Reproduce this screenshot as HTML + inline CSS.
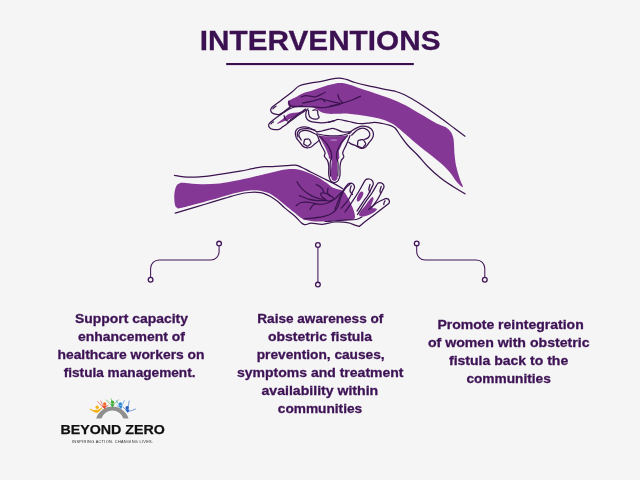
<!DOCTYPE html>
<html lang="en">
<head>
<meta charset="utf-8">
<title>Interventions</title>
<style>
html,body{margin:0;padding:0;background:#f5f5f5;}
body{width:640px;height:480px;overflow:hidden;position:relative;font-family:"Liberation Sans",sans-serif;}
svg{will-change:transform;position:absolute;left:0;top:0;display:block;}
text{font-family:"Liberation Sans",sans-serif;font-weight:bold;}
.t{font-size:13px;fill:#3e1356;stroke:#3e1356;stroke-width:0.3px;}
</style>
</head>
<body>
<svg width="640" height="480" viewBox="0 0 640 480">
<rect width="640" height="480" fill="#f5f5f5"/>
<!-- title -->
<text x="199.8" y="49.9" font-size="28.5" fill="#3c1152" stroke="#3c1152" stroke-width="0.3" textLength="240.7" lengthAdjust="spacingAndGlyphs">INTERVENTIONS</text>
<rect x="226.2" y="63" width="187.6" height="2.1" fill="#3a0f50"/>

<!-- ILLUS-START -->
<path d="M288.2 101.6C288.7 100.8 289.3 100.6 291.0 99.6C292.7 98.6 295.2 97.4 297.5 96.2C299.8 95.1 301.1 94.1 303.8 93.1C306.4 92.1 309.1 91.7 312.5 90.6C315.9 89.5 319.1 88.0 322.5 86.9C325.9 85.8 328.1 85.1 331.2 84.4C334.4 83.7 336.9 83.0 340.0 83.0C343.1 83.0 344.9 83.4 348.8 84.4C352.6 85.4 355.6 86.8 361.2 88.8C366.9 90.7 374.4 93.1 380.0 95.0C385.6 96.9 388.0 97.6 392.5 99.4C397.0 101.2 400.1 102.4 405.0 105.0C409.9 107.6 414.6 110.6 420.0 113.8C425.4 116.9 431.2 120.4 435.0 122.5C438.8 124.6 438.9 124.2 441.0 125.2C443.1 126.2 445.1 126.6 446.9 127.9C448.7 129.2 449.8 130.4 451.0 132.2C452.2 134.0 452.7 135.5 453.3 138.0C453.9 140.5 453.9 142.9 454.1 146.0C454.3 149.1 454.2 151.4 454.6 155.0C455.0 158.6 455.2 161.9 456.2 166.2C457.2 170.6 458.8 175.8 460.0 179.4C461.2 183.0 462.5 184.7 462.8 186.0C463.1 187.3 462.8 187.5 461.6 186.6C460.4 185.7 458.3 183.8 456.2 181.2C454.2 178.7 452.9 175.9 450.0 172.5C447.1 169.1 444.1 166.1 440.0 162.5C435.9 158.9 432.0 156.1 427.5 152.5C423.0 148.9 419.1 145.9 415.0 142.5C410.9 139.1 408.1 136.4 405.0 133.8C401.9 131.1 399.8 129.3 397.5 127.5C395.2 125.7 395.2 125.2 392.5 123.8C389.8 122.3 387.0 120.8 382.5 119.4C378.0 118.1 373.6 117.3 367.5 116.2C361.4 115.2 353.7 114.2 348.8 113.8C343.8 113.3 342.3 113.8 340.0 113.8C337.7 113.8 338.1 113.8 336.0 113.8C333.9 113.8 331.0 114.0 328.5 113.8C326.0 113.5 324.5 113.4 322.2 112.5C320.0 111.6 318.0 109.9 316.0 108.9C314.0 107.9 313.4 107.3 311.0 106.8C308.6 106.3 305.9 106.4 302.5 106.3C299.1 106.2 294.4 106.5 292.0 106.4C289.6 106.3 289.7 106.4 289.0 106.0C288.3 105.6 288.1 104.8 288.0 104.0C287.9 103.2 287.7 102.4 288.2 101.6Z" fill="#843795"/>
<path d="M277.1 123.5C277.5 122.8 281.1 120.4 283.0 118.8C284.9 117.1 286.0 115.7 287.7 114.6C289.4 113.5 290.5 113.3 292.3 112.9C294.1 112.5 296.3 112.6 297.8 112.4C299.3 112.2 300.6 111.5 300.9 111.7C301.2 111.9 300.5 112.9 299.4 113.7C298.3 114.5 296.4 115.4 294.7 116.4C293.0 117.4 291.7 118.3 290.0 119.1C288.3 119.9 287.0 120.2 285.3 120.8C283.6 121.4 282.1 122.2 280.6 122.7C279.1 123.2 276.7 124.2 277.1 123.5Z" fill="#843795"/>
<path d="M179.8 183.3C181.4 182.7 181.5 182.8 185.3 183.0C189.1 183.2 194.8 184.1 201.0 184.2C207.2 184.3 213.5 184.0 219.7 183.4C225.9 182.8 229.7 181.9 235.3 180.8C240.9 179.7 246.6 178.5 251.0 177.5C255.4 176.5 256.5 176.1 260.0 175.3C263.5 174.5 266.4 173.8 270.6 172.8C274.8 171.8 278.9 170.5 283.1 169.8C287.3 169.1 290.1 168.7 294.0 169.0C297.9 169.3 300.8 170.0 305.0 171.4C309.2 172.8 313.6 174.8 317.5 176.9C321.4 179.0 324.1 181.1 326.9 183.1C329.7 185.1 330.3 186.4 333.1 187.8C335.9 189.2 339.9 189.1 342.5 190.8C345.1 192.4 345.9 194.5 347.5 197.0C349.1 199.5 350.1 202.0 351.2 204.5C352.4 207.0 353.1 208.5 353.8 210.8C354.4 213.0 355.1 215.4 355.0 217.0C354.9 218.6 354.4 218.9 353.0 219.5C351.6 220.1 349.8 219.9 347.5 220.1C345.2 220.3 343.8 220.4 340.0 220.6C336.2 220.8 331.2 221.1 326.2 221.2C321.3 221.4 316.8 221.7 312.5 221.2C308.2 220.8 305.6 220.2 302.5 218.8C299.4 217.3 298.1 215.6 295.0 213.1C291.9 210.6 288.1 207.6 285.0 205.0C281.9 202.4 280.2 200.8 277.5 198.8C274.8 196.7 272.2 195.0 270.0 193.8C267.8 192.5 267.0 192.6 265.0 192.0C263.0 191.4 261.6 190.8 258.8 190.5C255.9 190.2 252.8 190.2 249.4 190.5C246.0 190.8 243.9 191.2 240.0 192.0C236.1 192.8 232.6 193.8 227.5 195.2C222.4 196.6 217.5 198.2 211.9 199.8C206.3 201.4 201.9 202.5 196.2 204.0C190.6 205.5 184.1 207.4 180.6 208.1C177.1 208.8 178.0 208.2 177.0 207.7C176.0 207.2 175.7 207.1 175.2 205.5C174.7 203.9 174.4 201.4 174.3 199.0C174.2 196.6 174.2 194.3 174.6 192.0C175.0 189.7 175.4 187.8 176.3 186.2C177.2 184.6 178.2 183.9 179.8 183.3Z" fill="#843795"/>
<path d="M361.9 191.4C362.5 191.5 363.3 192.0 363.4 193.0C363.5 194.0 362.9 195.6 362.2 197.0C361.5 198.4 360.4 200.0 359.6 200.8C358.8 201.6 358.0 201.6 357.5 201.4C357.0 201.2 356.7 200.6 356.8 199.5C356.9 198.4 357.4 196.8 358.0 195.5C358.6 194.2 359.3 193.0 360.0 192.3C360.7 191.6 361.3 191.3 361.9 191.4Z" fill="#843795"/>
<path d="M372.5 197.0C373.3 196.7 373.5 198.1 373.5 199.0C373.5 199.9 372.9 200.7 372.5 202.0C372.1 203.3 371.2 204.9 371.2 206.0C371.2 207.1 371.8 207.6 372.5 208.0C373.2 208.4 374.2 208.0 375.0 208.2C375.8 208.5 377.3 208.6 376.9 209.5C376.4 210.4 374.9 212.0 372.5 213.2C370.1 214.5 366.1 216.0 363.8 216.4C361.4 216.8 360.1 216.5 359.4 215.8C358.7 215.0 359.0 213.8 360.0 212.0C361.0 210.2 363.4 208.1 365.0 206.0C366.6 203.9 367.6 202.1 369.0 200.5C370.4 198.9 371.7 197.3 372.5 197.0Z" fill="#843795"/>
<path d="M318.2 135.4 Q333 137.8 347.6 135.2 Q341.5 143 338.8 151 L339.4 158 L337 161.5 L337 172.5 L337.6 178.75 L335 181.2 L332 180 L330.6 175 L331.3 166 L331.8 160.6 L328.8 158 L328.7 156 Q326 147 318.2 135.4Z" fill="#843795"/>
<ellipse cx="333.8" cy="140" rx="3.8" ry="0.8" fill="#b57cc4"/>
<g fill="none" stroke="#3b1450" stroke-width="1.25" stroke-linecap="round" stroke-linejoin="round">
<path d="M290.8 106.6C290.4 106.9 289.8 107.1 288.4 108.2C287.0 109.3 284.7 111.4 283.0 112.5C281.3 113.6 280.5 114.2 279.1 114.5C277.7 114.8 276.5 114.5 275.2 114.2C273.9 113.9 272.8 113.4 272.0 112.8C271.2 112.2 271.0 111.6 270.8 110.8C270.6 110.0 270.8 109.3 271.1 108.6C271.4 107.9 270.6 108.4 272.6 106.8C274.6 105.2 278.7 102.3 282.2 99.6C285.7 96.9 288.9 94.5 292.0 92.0C295.1 89.5 296.3 87.4 299.5 85.8C302.7 84.2 305.9 83.9 310.0 83.1C314.1 82.3 318.9 81.9 322.5 81.2C326.1 80.6 327.1 80.0 330.0 79.4C332.9 78.8 335.8 78.1 338.8 78.1C341.7 78.1 343.3 78.6 346.2 79.4C349.2 80.2 351.2 81.4 355.0 82.5C358.8 83.6 362.6 84.5 367.5 85.6C372.4 86.7 377.6 87.7 382.5 88.8C387.4 89.8 390.9 90.1 395.0 91.2C399.1 92.4 400.5 92.8 405.0 95.0C409.5 97.2 413.7 99.7 420.0 103.8C426.3 107.8 433.7 113.0 440.0 117.5C446.3 122.0 450.5 125.4 455.0 128.8C459.5 132.1 463.2 134.9 465.0 136.2"/>
<path d="M289.8 106.2C291.6 106.3 295.7 106.5 300.0 106.6C304.3 106.7 309.2 106.7 313.8 106.9C318.2 107.1 320.3 108.0 325.0 107.5C329.7 107.0 337.3 105.0 340.0 104.4"/>
<path d="M302.5 105.9C301.1 106.1 297.2 106.4 294.7 107.0C292.2 107.6 290.5 108.3 288.4 109.4C286.3 110.5 285.0 111.6 283.0 112.9C281.0 114.2 279.8 115.1 277.5 116.8C275.2 118.5 272.1 120.9 270.5 122.3C268.9 123.7 268.9 123.7 268.7 124.6C268.5 125.5 268.6 126.5 269.3 127.3C270.0 128.1 271.0 128.9 272.8 129.3C274.6 129.7 277.3 129.8 279.1 129.3C280.9 128.8 281.3 127.8 283.0 126.6C284.7 125.4 286.0 124.5 288.4 122.7C290.8 120.9 293.9 118.6 296.2 116.8C298.6 115.0 299.9 114.2 301.7 112.9C303.5 111.6 305.6 110.4 306.4 109.8"/>
<path d="M287.7 122.3C288.7 121.5 290.9 119.6 293.0 118.0C295.1 116.4 297.1 114.9 299.4 113.3C301.7 111.7 304.5 109.8 305.6 109.0"/>
<path d="M272.9 108.9C273.2 108.6 273.7 107.8 274.3 107.3C274.9 106.8 275.7 106.4 276.0 106.2"/>
<path d="M271.0 123.9C271.2 123.7 271.8 123.0 272.2 122.6C272.6 122.2 273.3 122.0 273.5 121.9"/>
<path d="M284.1 115.6C284.3 116.2 284.6 118.3 285.2 119.2C285.8 120.1 286.9 120.5 287.2 120.8"/>
<path d="M307.9 108.8C307.6 109.4 306.3 111.0 306.0 112.5C305.7 114.0 305.7 115.6 306.0 116.9C306.3 118.2 306.8 119.1 307.9 120.0C309.0 120.9 309.9 121.4 312.2 121.9C314.6 122.4 318.1 122.7 321.0 122.8C323.9 122.9 326.2 122.6 328.5 122.2C330.8 121.8 333.0 121.1 334.0 120.8"/>
<path d="M308.5 110.3C308.6 111.0 308.5 113.1 308.8 114.4C309.1 115.7 309.4 116.7 310.4 117.5C311.4 118.3 312.8 118.9 314.1 119.1C315.4 119.3 316.7 119.1 317.6 118.8C318.5 118.4 319.0 118.0 319.1 117.2C319.2 116.4 318.2 115.5 317.9 114.4C317.6 113.3 317.9 112.0 317.6 111.2C317.3 110.5 316.8 110.2 316.0 110.0C315.2 109.8 313.5 110.2 312.9 110.3"/>
<path d="M328.5 122.2C329.5 121.9 332.2 121.3 334.0 120.8C335.8 120.3 335.8 119.4 338.5 119.5C341.2 119.6 345.1 120.8 348.8 121.5C352.4 122.2 355.1 123.2 358.5 123.5C361.9 123.8 364.6 123.4 367.5 123.2C370.4 123.0 371.8 122.3 374.5 122.4C377.2 122.5 379.7 123.0 382.5 123.5C385.3 124.0 387.8 124.5 390.0 125.3C392.2 126.1 393.2 126.3 395.0 128.0C396.8 129.7 397.8 131.9 400.0 135.0C402.2 138.1 404.4 141.4 407.5 145.0C410.6 148.6 413.9 151.2 417.5 155.0C421.1 158.8 423.4 162.2 427.5 166.2C431.6 170.3 435.5 173.9 440.0 177.5C444.5 181.1 448.0 183.3 452.5 186.2C457.0 189.2 462.8 192.4 465.0 193.8"/>
<path d="M301.2 96.9C302.1 96.7 303.8 95.6 306.2 95.6C308.7 95.6 312.1 97.2 315.0 96.9C317.9 96.6 320.7 94.6 322.5 93.8C324.3 92.9 324.6 92.5 325.0 92.2"/>
<path d="M288.8 101.2C288.8 101.7 288.9 102.7 289.2 103.5C289.5 104.3 290.3 105.1 290.5 105.5"/>
<path d="M302.5 103.1C304.3 102.8 309.1 102.0 312.5 101.2C315.9 100.5 319.0 98.6 321.2 98.8C323.5 98.9 324.3 101.3 325.0 101.9"/>
<path d="M321.2 98.8C322.8 99.2 326.6 100.4 330.0 101.2C333.4 102.1 338.2 102.9 340.0 103.3"/>
<path d="M330.0 106.2C332.2 105.7 338.5 104.2 342.5 103.1C346.5 102.0 348.7 101.2 352.0 100.0C355.3 98.8 359.1 96.9 360.6 96.2"/>
<path d="M338.0 94.4C338.2 95.1 338.2 97.0 339.0 98.5C339.8 100.0 341.9 102.0 342.5 102.8"/>
<path d="M174.4 175.3C176.1 175.6 179.2 176.6 183.8 176.9C188.2 177.2 192.9 177.3 199.4 176.9C205.9 176.5 212.4 175.4 219.7 174.4C227.0 173.4 234.1 172.3 240.0 171.2C245.9 170.2 248.5 169.4 252.5 168.6C256.5 167.8 258.7 167.2 262.0 166.8C265.3 166.4 266.2 166.8 270.6 166.6C275.0 166.4 281.8 165.9 286.2 165.6C290.8 165.3 292.8 164.9 295.6 165.2C298.4 165.5 299.1 166.2 301.9 167.5C304.7 168.8 307.6 170.4 311.2 172.2C314.9 174.0 318.3 175.7 322.2 177.7C326.1 179.7 329.4 181.1 333.1 183.1C336.8 185.1 340.8 187.6 342.5 188.6"/>
<path d="M175.2 213.1C179.0 212.0 189.6 208.9 196.2 206.9C202.9 204.9 206.3 203.9 211.9 202.2C217.5 200.5 222.4 199.0 227.5 197.5C232.6 196.0 236.1 194.9 240.0 194.0C243.9 193.1 246.3 192.8 249.4 192.5C252.5 192.2 254.7 192.2 257.2 192.3C259.7 192.4 261.2 192.6 263.5 193.3C265.8 194.0 267.5 194.8 270.0 196.2C272.5 197.7 274.8 199.1 277.5 201.2C280.2 203.4 281.9 205.4 285.0 208.1C288.1 210.8 291.6 213.3 295.0 216.2C298.4 219.2 300.8 223.2 303.8 224.4C306.7 225.6 307.9 223.1 311.2 223.1C314.6 223.1 318.2 224.6 322.5 224.4C326.8 224.2 330.5 222.3 335.0 222.0C339.5 221.7 343.9 222.0 347.5 222.6C351.1 223.2 352.9 224.4 355.0 225.1C357.1 225.8 358.6 226.2 359.4 226.4"/>
<path d="M303.8 218.8C305.3 218.6 308.7 218.5 312.5 218.1C316.3 217.7 321.4 217.2 325.0 216.2C328.6 215.3 330.2 214.7 332.5 213.1C334.8 211.5 335.9 210.5 337.5 207.5C339.1 204.5 339.9 199.6 341.2 196.2C342.6 192.9 343.4 191.0 345.0 188.8C346.6 186.5 349.1 184.9 350.0 184.0"/>
<path d="M325.0 221.5C326.8 221.4 331.4 221.0 335.0 220.8C338.6 220.5 341.2 220.3 345.0 220.1C348.8 219.9 353.2 220.1 356.2 219.5C359.3 218.9 360.9 217.4 361.9 217.0"/>
<path d="M335.0 209.5C335.7 207.7 337.4 202.7 338.8 199.5C340.1 196.3 341.0 194.1 342.5 191.5C344.0 188.9 346.0 186.3 347.2 184.9C348.3 183.5 348.1 183.9 348.7 183.5C349.4 183.2 350.0 183.1 350.7 183.1C351.5 183.2 352.1 183.4 352.7 183.8C353.3 184.2 353.7 184.7 354.1 185.4C354.4 186.0 354.5 186.7 354.5 187.4C354.4 188.1 354.6 187.6 353.8 189.3C353.0 191.1 351.1 194.9 350.0 197.0C348.9 199.1 349.1 198.7 347.5 200.8C345.9 202.8 342.4 206.9 341.2 208.2"/>
<path d="M345.0 212.0C346.1 210.4 348.8 206.9 351.2 203.2C353.7 199.6 356.3 195.6 358.8 191.5C361.2 187.4 363.5 182.8 365.0 180.6C366.5 178.4 366.2 179.5 367.0 179.2C367.8 178.9 368.6 178.8 369.4 179.0C370.2 179.1 370.9 179.5 371.6 180.0C372.3 180.5 372.7 181.2 373.0 182.0C373.3 182.8 373.4 183.6 373.2 184.4C373.1 185.2 373.2 184.6 372.2 186.6C371.2 188.7 369.0 193.2 367.5 195.8C366.0 198.3 365.6 198.0 363.8 200.8C361.9 203.5 358.2 209.2 357.0 211.0"/>
<path d="M357.5 214.5C359.1 212.0 363.6 204.6 366.2 200.8C368.9 196.9 370.0 196.0 372.0 193.0C374.0 190.0 376.1 185.8 377.3 184.0C378.6 182.2 378.3 183.2 379.0 182.9C379.6 182.7 380.3 182.7 380.9 182.8C381.6 183.0 382.2 183.2 382.7 183.7C383.2 184.2 383.6 184.7 383.8 185.3C384.0 186.0 384.0 186.6 383.9 187.3C383.8 188.0 384.2 186.9 383.0 189.1C381.9 191.3 379.5 196.3 377.5 199.5C375.5 202.7 373.0 205.7 372.0 207.0"/>
<path d="M368.8 209.5C370.1 208.4 373.4 205.2 376.2 203.2C379.1 201.3 383.0 199.7 384.8 198.9C386.6 198.0 385.8 198.5 386.4 198.5C386.9 198.5 387.4 198.6 387.9 198.9C388.4 199.2 388.7 199.6 389.0 200.1C389.3 200.6 389.4 201.1 389.4 201.7C389.4 202.2 389.2 202.7 388.9 203.2C388.6 203.7 390.0 202.5 387.8 204.3C385.5 206.1 380.1 210.3 376.2 213.2C372.4 216.2 369.3 218.4 366.2 220.8C363.2 223.1 360.6 225.4 359.4 226.4"/>
<path d="M351.2 185.8C351.0 186.7 349.8 189.2 350.0 190.8C350.2 192.3 352.1 193.8 352.5 194.5"/>
<path d="M370.0 184.5C369.8 185.4 368.8 188.2 368.8 189.5C368.8 190.8 369.8 191.6 370.0 192.0"/>
<path d="M381.2 186.4C381.0 187.2 380.1 189.6 380.0 190.8C379.9 191.9 380.4 192.6 380.5 193.0"/>
<path d="M385.0 200.8C384.8 201.1 384.2 202.1 384.0 202.8C383.8 203.5 383.8 204.2 383.8 204.5"/>
<path d="M296.9 181.9C297.9 183.2 299.9 186.9 302.5 189.4C305.1 191.9 308.1 193.9 311.2 195.6C314.4 197.3 317.5 198.2 320.0 198.8C322.5 199.3 324.1 198.8 325.0 198.8"/>
<path d="M299.4 195.6C300.9 196.2 304.2 197.8 307.5 198.8C310.8 199.7 314.1 200.3 317.5 200.6C320.9 200.9 324.7 200.6 326.2 200.6"/>
<path d="M296.2 205.6C297.1 205.0 298.8 203.1 301.2 202.5C303.7 201.9 306.6 202.2 310.0 202.5C313.4 202.8 316.6 204.4 320.0 204.4C323.4 204.4 326.1 203.5 328.8 202.5C331.4 201.5 332.5 200.8 335.0 198.8C337.5 196.7 341.1 192.6 342.5 191.2"/>
<path d="M310.0 209.4C310.4 208.7 311.5 206.6 312.5 205.6C313.5 204.6 315.0 204.1 315.6 203.8"/>
<path d="M316.2 184.4C317.1 185.0 319.9 186.2 321.2 187.5C322.6 188.8 323.3 191.1 323.8 191.9"/>
<path d="M328.1 188.1C328.0 188.9 327.2 191.0 327.5 192.5C327.8 194.0 329.6 195.6 330.0 196.2"/>
<path d="M320.6 193.8C320.8 192.8 323.1 192.7 325.0 193.1C326.9 193.5 329.7 195.2 331.2 196.2C332.8 197.3 334.2 197.8 333.8 198.8C333.3 199.7 330.6 201.4 328.8 201.2C326.9 201.1 325.2 199.4 323.8 198.1C322.3 196.8 320.4 194.7 320.6 193.8Z"/>
<path d="M318.8 140.6C318.1 141.2 316.6 142.5 315.0 143.8C313.4 145.0 312.0 146.9 310.0 147.5C308.0 148.1 305.6 147.8 303.8 146.9C301.9 146.0 301.4 144.2 300.0 142.5C298.6 140.8 297.0 139.5 296.2 137.5C295.5 135.5 294.9 133.1 295.6 131.2C296.3 129.4 297.6 128.2 300.0 127.5C302.4 126.8 305.7 126.7 308.8 127.5C311.8 128.3 315.4 131.1 316.9 131.9"/>
<path d="M317.5 135.5C317.1 135.2 316.8 134.6 315.0 133.8C313.2 132.9 310.0 131.0 307.5 130.6C305.0 130.2 302.8 130.5 301.2 131.2C299.7 132.0 298.8 133.4 298.8 135.0C298.8 136.6 300.8 139.1 301.2 140.0"/>
<path d="M315.0 130.2C313.6 129.9 310.1 128.7 307.5 128.6C304.9 128.5 302.3 128.6 300.5 129.4C298.7 130.2 297.8 131.6 297.3 133.0C296.9 134.4 297.9 136.3 298.0 137.0"/>
<path d="M348.8 132.8C349.9 132.0 352.9 129.8 355.3 128.6C357.7 127.4 359.5 126.5 361.9 126.2C364.3 126.0 366.5 126.4 368.4 127.2C370.3 128.0 371.9 129.2 372.7 130.9C373.5 132.6 373.7 134.6 373.1 136.6C372.5 138.6 370.8 140.3 369.4 142.2C368.0 144.1 367.1 145.8 365.6 146.9C364.1 148.0 362.6 148.5 360.9 148.3C359.2 148.1 357.9 146.7 356.2 145.9C354.6 145.1 353.0 144.8 351.6 144.1C350.2 143.4 349.3 142.5 348.8 142.2"/>
<path d="M351.6 135.2C352.6 134.3 355.2 131.3 357.2 130.0C359.2 128.7 360.9 128.1 362.8 128.1C364.7 128.1 366.2 129.0 367.5 130.0C368.8 131.0 369.6 132.4 369.8 133.8C370.0 135.1 369.3 136.5 368.4 137.5C367.5 138.5 365.4 139.1 364.7 139.4"/>
<path d="M316.9 131.9C317.8 131.7 319.6 131.6 322.0 131.0C324.4 130.4 327.7 129.2 330.0 128.8C332.3 128.3 332.8 128.2 335.0 128.8C337.2 129.3 339.6 131.3 342.5 131.9C345.4 132.5 349.7 131.9 351.2 131.9"/>
<path d="M316.9 133.8C318.8 134.1 323.3 135.3 327.5 135.6C331.7 135.9 335.9 136.0 340.0 135.6C344.1 135.2 348.2 133.5 350.0 133.1"/>
<path d="M317.5 135.6C318.2 137.3 319.9 142.0 321.2 145.0C322.6 148.0 324.4 150.5 325.0 152.5C325.6 154.5 323.9 154.8 324.4 156.2C324.8 157.7 326.7 158.8 327.5 160.6C328.3 162.4 328.5 163.7 328.8 166.2C329.0 168.8 328.4 172.4 328.8 175.0C329.1 177.6 329.6 179.2 330.6 180.6C331.6 181.9 333.0 182.5 334.4 182.5C335.8 182.5 337.1 181.9 338.1 180.6C339.1 179.2 339.7 177.6 340.0 175.0C340.3 172.4 339.8 168.8 340.0 166.2C340.2 163.7 340.6 162.3 341.2 160.6C341.9 158.9 343.5 158.4 343.8 156.9C344.0 155.4 342.3 154.6 342.8 152.5C343.2 150.4 344.9 148.0 346.2 145.0C347.6 142.0 349.3 137.3 350.0 135.6"/>
<path d="M319.5 136.2C320.9 137.6 324.9 141.2 327.0 144.0C329.1 146.8 330.2 149.6 331.0 152.0C331.8 154.4 331.7 155.5 331.6 157.5C331.5 159.5 330.4 159.7 330.2 163.0C330.0 166.3 330.4 173.7 330.4 176.0"/>
<path d="M347.5 135.6C346.2 137.1 342.4 141.0 340.5 144.0C338.6 147.0 337.7 149.6 337.0 152.0C336.3 154.4 336.4 155.5 336.6 157.5C336.8 159.5 337.8 159.7 338.0 163.0C338.2 166.3 337.8 173.7 337.8 176.0"/>
<path d="M310.9 142.4C311.0 142.9 311.0 143.4 310.7 143.8C310.5 144.2 309.9 144.3 309.6 144.7C309.2 145.0 309.1 145.4 308.7 145.7C308.2 145.9 307.8 146.2 307.3 146.2C306.8 146.1 306.5 145.7 306.1 145.4C305.6 145.2 305.3 145.1 304.9 144.8C304.5 144.5 304.0 144.3 303.8 143.9C303.6 143.4 303.9 142.9 303.9 142.4C304.0 141.9 304.1 141.6 304.2 141.1C304.4 140.7 304.3 140.1 304.6 139.7C304.9 139.4 305.5 139.3 306.0 139.2C306.5 139.1 306.8 139.2 307.3 139.2C307.8 139.1 308.3 138.8 308.7 139.0C309.2 139.1 309.6 139.5 309.8 139.9C310.1 140.3 310.1 140.7 310.3 141.2C310.5 141.6 310.9 141.9 310.9 142.4Z" fill="#f5f5f5"/><path d="M365.7 143.6C365.7 144.1 365.4 144.7 365.1 145.1C364.8 145.6 364.4 145.8 364.0 146.2C363.7 146.7 363.5 147.2 363.0 147.5C362.5 147.8 361.9 147.8 361.4 147.7C360.9 147.6 360.5 147.2 360.0 147.0C359.5 146.8 358.9 146.8 358.5 146.5C358.0 146.2 357.7 145.7 357.5 145.2C357.4 144.7 357.6 144.2 357.7 143.6C357.7 143.0 357.6 142.6 357.7 142.1C357.8 141.5 358.0 140.9 358.4 140.6C358.8 140.2 359.4 140.3 360.0 140.1C360.5 139.9 360.8 139.8 361.4 139.7C362.0 139.6 362.6 139.4 363.0 139.6C363.5 139.8 363.8 140.4 364.1 140.9C364.5 141.3 364.6 141.7 364.9 142.1C365.2 142.6 365.6 143.1 365.7 143.6Z" fill="#f5f5f5"/>
</g>
<!-- ILLUS-END -->

<!-- connectors -->
<g fill="none" stroke="#42165a" stroke-width="1.3">
<path stroke-width="1.05" d="M219.1 246.2 V251.5 A8.5 8.5 0 0 1 210.6 260 H159.1 A8.5 8.5 0 0 0 150.6 268.5 V277.2"/>
<circle cx="219.1" cy="243.6" r="2.35"/><circle cx="150.6" cy="279.7" r="2.35"/>
<path stroke-width="1.05" d="M317.9 247.5 V282"/>
<circle cx="317.9" cy="245" r="2.35"/><circle cx="317.9" cy="284.6" r="2.35"/>
<path stroke-width="1.05" d="M416.7 246 V251.5 A8.5 8.5 0 0 0 425.2 260 H476.3 A8.5 8.5 0 0 1 484.8 268.5 V277.2"/>
<circle cx="416.7" cy="243.4" r="2.35"/><circle cx="484.8" cy="279.7" r="2.35"/>
</g>

<!-- text blocks -->
<g class="t">
<text x="75" y="323" textLength="113" lengthAdjust="spacingAndGlyphs">Support capacity</text>
<text x="78" y="341" textLength="107" lengthAdjust="spacingAndGlyphs">enhancement of</text>
<text x="57.5" y="359" textLength="147" lengthAdjust="spacingAndGlyphs">healthcare workers on</text>
<text x="63.7" y="377" textLength="131.8" lengthAdjust="spacingAndGlyphs">fistula management.</text>

<text x="257.3" y="322.7" textLength="126" lengthAdjust="spacingAndGlyphs">Raise awareness of</text>
<text x="268" y="340.7" textLength="104" lengthAdjust="spacingAndGlyphs">obstetric fistula</text>
<text x="256.7" y="358.6" textLength="128" lengthAdjust="spacingAndGlyphs">prevention, causes,</text>
<text x="237" y="376.6" textLength="166.5" lengthAdjust="spacingAndGlyphs">symptoms and treatment</text>
<text x="261.5" y="394.5" textLength="116.7" lengthAdjust="spacingAndGlyphs">availability within</text>
<text x="277.8" y="412.6" textLength="84.4" lengthAdjust="spacingAndGlyphs">communities</text>

<text x="437.4" y="328.8" textLength="146.3" lengthAdjust="spacingAndGlyphs">Promote reintegration</text>
<text x="427.9" y="346.8" textLength="161.7" lengthAdjust="spacingAndGlyphs">of women with obstetric</text>
<text x="449" y="364.8" textLength="119.2" lengthAdjust="spacingAndGlyphs">fistula back to the</text>
<text x="466.4" y="383" textLength="84.4" lengthAdjust="spacingAndGlyphs">communities</text>
</g>

<!-- logo -->
<g id="logo">
<path d="M96.1 418.4 A17.1 17.1 0 0 1 128.6 418.4 L123.4 418.4 A11.6 11.6 0 0 0 101.4 418.4 Z" fill="#8f8f8f"/>
<g fill="none" stroke-linecap="round" stroke-linejoin="round" stroke-width="0.7" opacity="0.85">
<path d="M90.4 409.2 Q94 411.8 96.2 411.6 Q99 410.6 101.6 408.3" stroke="#f6b318" stroke-width="1.3"/>
<path d="M97.6 401.6 L103.2 407.6 M100.8 400.9 L103.4 407.2 M103.4 407.4 L108.2 405.4" stroke="#e8452c"/>
<path d="M106.4 400 L112.2 406 L118.6 399.8 M111.2 398.8 L112.3 405" stroke="#3aa935"/>
<path d="M116.2 400.6 L120.8 407.6 L124.4 400.6 M120.8 407.6 L117 405.6" stroke="#2e8ad8"/>
<path d="M129.2 401 L127.2 411.4 Q131.5 411.2 135.6 409 M127.2 411 L123.2 407.2" stroke="#1f5fbf"/>
</g>
<path d="M91.5 409.6 Q95.5 411 101.4 408.6 Q99.5 412.6 96.4 413 Q93.6 412 91.5 409.6Z" fill="#f6b318"/>
<path d="M102.4 405.8 L107 405.4 L104.4 409.2Z" fill="#ea4a28"/>
<path d="M110.4 404.2 L114.6 404.2 L112.4 407.4Z" fill="#3aa935"/>
<path d="M118.4 405.6 L122.6 405.8 L121 409.2Z" fill="#2e8ad8"/>
<path d="M125 409.4 L129.4 409.4 L128 413Z" fill="#1f5fbf"/>
<circle cx="97.2" cy="407.2" r="1.7" fill="#f6b318"/>
<circle cx="104.7" cy="403.9" r="1.6" fill="#f26a21"/>
<circle cx="112.5" cy="402.2" r="1.6" fill="#3aa935"/>
<circle cx="120.4" cy="403.9" r="1.6" fill="#2e8ad8"/>
<circle cx="127.2" cy="407.7" r="1.7" fill="#1f5fbf"/>
<text x="60.4" y="434.1" font-size="13.6" fill="#111" stroke="#111" stroke-width="0.25" textLength="104.4" lengthAdjust="spacingAndGlyphs">BEYOND ZERO</text>
<text x="72" y="443.3" font-size="3.9" fill="#2a2a2a" style="font-weight:normal" textLength="81" lengthAdjust="spacing">INSPIRING ACTION. CHANGING LIVES.</text>
</g>
</svg>
</body>
</html>
